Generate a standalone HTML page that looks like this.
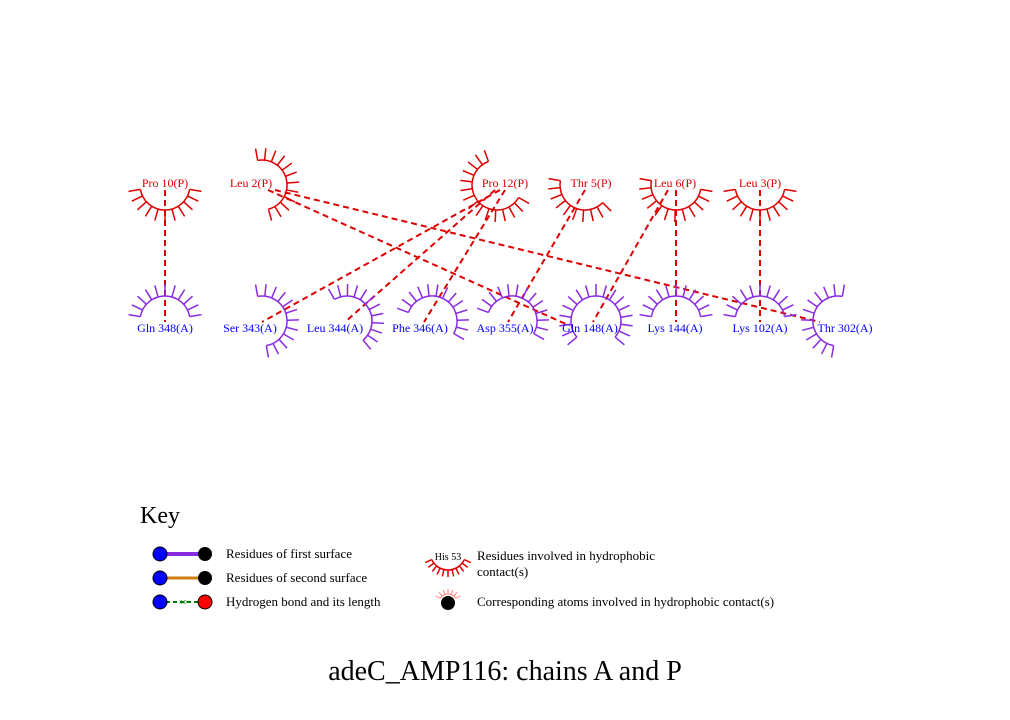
<!DOCTYPE html>
<html><head><meta charset="utf-8"><style>
html,body{margin:0;padding:0;background:#fff;width:1010px;height:720px;overflow:hidden}
svg{display:block;font-family:"Liberation Serif",serif}
</style></head><body>
<svg id="chart" width="1010" height="720" viewBox="0 0 1010 720">
<g id="lines"></g>
<g id="arcs"></g>
<g id="key">
<text x="140" y="523" font-size="24">Key</text>
<line x1="160" y1="554" x2="204" y2="554" stroke="#8a2be2" stroke-width="4"/>
<circle cx="160" cy="554" r="7" fill="#0000ff" stroke="#000"/><circle cx="205" cy="554" r="7" fill="#000"/>
<text x="226" y="558" font-size="13">Residues of first surface</text>
<line x1="160" y1="578" x2="204" y2="578" stroke="#cc8010" stroke-width="3"/>
<circle cx="160" cy="578" r="7" fill="#0000ff" stroke="#000"/><circle cx="205" cy="578" r="7" fill="#000"/>
<text x="226" y="582" font-size="13">Residues of second surface</text>
<line x1="166" y1="602" x2="200" y2="602" stroke="#008000" stroke-width="2" stroke-dasharray="4,3"/>
<text x="183" y="604" font-size="6" fill="#008000" text-anchor="middle">3.0</text>
<circle cx="160" cy="602" r="7" fill="#0000ff" stroke="#000"/><circle cx="205" cy="602" r="7" fill="#ff0000" stroke="#000"/>
<text x="226" y="606" font-size="13">Hydrogen bond and its length</text>
<text x="448" y="560" font-size="10" text-anchor="middle">His 53</text>
<g id="keyarc"></g>
<text x="477" y="560" font-size="13">Residues involved in hydrophobic</text>
<text x="477" y="576" font-size="13">contact(s)</text>
<circle cx="448" cy="603" r="7" fill="#000"/>
<g id="keyatom"></g>
<text x="477" y="606" font-size="13">Corresponding atoms involved in hydrophobic contact(s)</text>
</g>
<text x="505" y="680" font-size="28" text-anchor="middle">adeC_AMP116: chains A and P</text>
</svg>
<script>
const topNames=["Pro 10(P)","Leu 2(P)","Pro 12(P)","Thr 5(P)","Leu 6(P)","Leu 3(P)"];
const topX=[165,251,505,591,675,760];
const topArcs=[[10,170],[-100,75],[30,250],[45,190],[10,190],[10,170]];
const botNames=["Gln 348(A)","Ser 343(A)","Leu 344(A)","Phe 346(A)","Asp 355(A)","Gln 148(A)","Lys 144(A)","Lys 102(A)","Thr 302(A)"];
const botX=[165,250,335,420,505,590,675,760,845];
const botCX=[165,262,347,432,512,596,676,760,838];
const botArcs=[[190,350],[-100,80],[-120,50],[-160,30],[-160,30],[140,400],[190,350],[190,350],[100,280]];
const contacts=[[0,0],[1,5],[1,8],[2,1],[2,2],[2,3],[3,4],[4,5],[4,6],[5,7]];
const contactStart=[[165,190],[268,190],[275,190],[500,190],[495,190],[505,190],[585,190],[668,190],[676,190],[760,190]];
const contactEnd=[[165,322],[568,325],[820,322],[262,322],[345,322],[424,322],[508,322],[593,322],[676,322],[760,322]];
const NS="http://www.w3.org/2000/svg";
const topY=185, botY=321;
function mk(tag,attrs,parent){const e=document.createElementNS(NS,tag);for(const k in attrs)e.setAttribute(k,attrs[k]);parent.appendChild(e);return e;}
function arc(parent,cx,cy,r,a0,a1,col,len,step,w){
  const g=mk('g',{},parent);
  const rad=a=>a*Math.PI/180;
  const x0=cx+r*Math.cos(rad(a0)),y0=cy+r*Math.sin(rad(a0)),x1=cx+r*Math.cos(rad(a1)),y1=cy+r*Math.sin(rad(a1));
  mk('path',{d:`M${x0},${y0} A${r},${r} 0 ${(a1-a0)>180?1:0} 1 ${x1},${y1}`,fill:'none',stroke:col,'stroke-width':w},g);
  const n=Math.round((a1-a0)/step);
  for(let i=0;i<=n;i++){const a=rad(a0+(a1-a0)*i/n);
    mk('line',{x1:cx+r*Math.cos(a),y1:cy+r*Math.sin(a),x2:cx+(r+len)*Math.cos(a),y2:cy+(r+len)*Math.sin(a),stroke:col,'stroke-width':w},g);}
  return g;
}
const L=document.getElementById('lines'),A=document.getElementById('arcs');
contacts.forEach((c,i)=>{
  const l=mk('line',{x1:contactStart[i][0],y1:contactStart[i][1],x2:contactEnd[i][0],y2:contactEnd[i][1],stroke:'#dd0000','stroke-width':2,'stroke-dasharray':'6,4'},L);
  
  
});
topNames.forEach((n,i)=>{
  const g=arc(A,[165,262,497,585,676,760][i],topY,25,topArcs[i][0],topArcs[i][1],'#dd0000',12,16,1.5);
  
  
  const t=mk('text',{x:topX[i],y:topY+2,'font-size':12,fill:'#dd0000','text-anchor':'middle'},A);t.textContent=n;
  
  
});
botNames.forEach((n,i)=>{
  const g=arc(A,botCX[i],botY,25,botArcs[i][0],botArcs[i][1],'#8a2be2',12,16,1.5);
  
  
  const t=mk('text',{x:botX[i],y:botY+11,'font-size':12,fill:'#0000ff','text-anchor':'middle'},A);t.textContent=n;
  
  
});
arc(document.getElementById('keyarc'),448,552,18,25,155,'#dd0000',7,13,1.5);
arc(document.getElementById('keyatom'),448,603,9,-150,-30,'#ff8080',5,20,1);
</script>
</body></html>
